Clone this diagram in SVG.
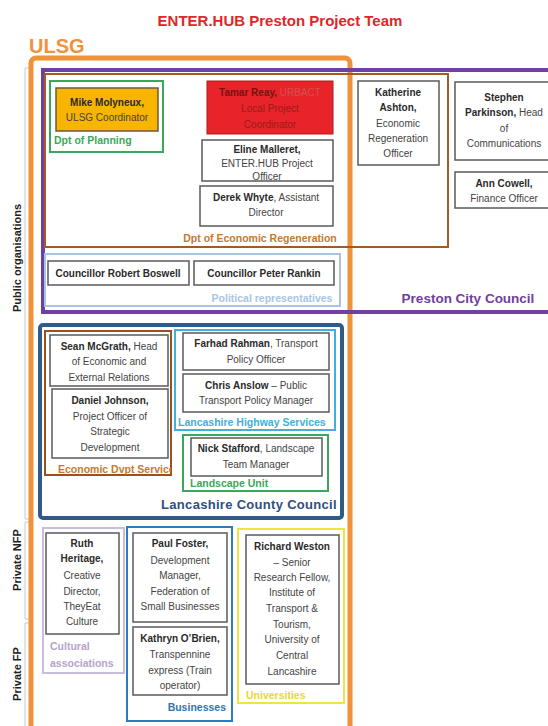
<svg xmlns="http://www.w3.org/2000/svg" width="548" height="726" viewBox="0 0 548 726">
<defs>
<style>
text{font-family:"Liberation Sans",Arial,sans-serif;}
.n{fill:#fff;stroke:#5a5a5a;stroke-width:1.5;}
.t{font-size:10px;fill:#444;text-anchor:middle;}
.b{font-weight:bold;fill:#2a2a2a;}
.lbl{font-size:10.5px;font-weight:bold;}
.grp{fill:none;}
.side{font-size:11px;font-weight:bold;fill:#222;text-anchor:middle;}
.br{stroke:#c8c8c8;stroke-width:1;fill:none;}
</style>
<clipPath id="edsClip"><rect x="45" y="331" width="126" height="144"/></clipPath>
</defs>
<rect width="548" height="726" fill="#fff"/>

<!-- title -->
<text x="280" y="26" font-size="15" font-weight="bold" fill="#e0262a" text-anchor="middle">ENTER.HUB Preston Project Team</text>

<!-- side axis -->
<g id="axis">
<path class="br" d="M29,68 H25 V519 H29"/>
<path class="br" d="M29,522 H25 V619 H29"/>
<path class="br" d="M29,623 H25 V726"/>
<text class="side" transform="translate(21,258) rotate(-90)">Public organisations</text>
<text class="side" transform="translate(21,560) rotate(-90)">Private NFP</text>
<text class="side" transform="translate(21,674) rotate(-90)">Private FP</text>
</g>

<!-- ULSG -->
<g id="ulsg">
<text x="29" y="53" font-size="20" font-weight="bold" fill="#f0923a">ULSG</text>
<rect x="31" y="58" width="319" height="690" rx="5" fill="none" stroke="#f0923a" stroke-width="5"/>
</g>

<!-- Preston City Council -->
<g id="preston">
<rect x="43" y="70" width="520" height="242" fill="none" stroke="#7040a0" stroke-width="4"/>
<text x="468" y="303" font-size="13.5" font-weight="bold" fill="#7040a0" text-anchor="middle">Preston City Council</text>
</g>

<!-- Dpt of Economic Regeneration -->
<g id="der">
<rect x="45" y="74" width="403" height="173" fill="none" stroke="#a55a24" stroke-width="2"/>
<text x="260" y="242" font-size="10.5" font-weight="bold" fill="#c47a2e" text-anchor="middle">Dpt of Economic Regeneration</text>
</g>

<!-- Dpt of Planning -->
<g id="planning">
<rect x="50" y="81" width="113" height="71" fill="none" stroke="#3aa85a" stroke-width="2"/>
<text x="54" y="144" class="lbl" fill="#3aa85a">Dpt of Planning</text>
</g>

<g id="mike">
<rect x="56" y="88" width="102" height="43" fill="#f7b500" stroke="#6a5a3a" stroke-width="1.5"/>
<text class="t"><tspan x="107" y="106" class="b">Mike Molyneux,</tspan><tspan x="107" y="121">ULSG Coordinator</tspan></text>
</g>

<g id="tamar">
<rect x="207" y="81" width="126" height="53" fill="#e8242a" stroke="#b01a1a" stroke-width="1"/>
<text class="t" fill="#9a1a1a"><tspan x="270" y="96"><tspan font-weight="bold" fill="#7a1010">Tamar Reay,</tspan><tspan fill="#d45050"> URBACT</tspan></tspan><tspan x="270" y="112" fill="#9a1a1a">Local Project</tspan><tspan x="270" y="128" fill="#9a1a1a">Coordinator</tspan></text>
</g>

<g id="eline">
<rect class="n" x="202" y="140" width="131" height="41"/>
<text class="t"><tspan x="267" y="153" class="b">Eline Malleret,</tspan><tspan x="267" y="167">ENTER.HUB Project</tspan><tspan x="267" y="180">Officer</tspan></text>
</g>

<g id="derek">
<rect class="n" x="200" y="186" width="133" height="40"/>
<text class="t"><tspan x="266" y="201"><tspan class="b">Derek Whyte</tspan>, Assistant</tspan><tspan x="266" y="216">Director</tspan></text>
</g>

<g id="katherine">
<rect class="n" x="358" y="81" width="81" height="84"/>
<text class="t"><tspan x="398" y="96" class="b">Katherine</tspan><tspan x="398" y="111" class="b">Ashton,</tspan><tspan x="398" y="127">Economic</tspan><tspan x="398" y="142">Regeneration</tspan><tspan x="398" y="157">Officer</tspan></text>
</g>

<g id="stephen">
<rect class="n" x="455" y="82" width="100" height="78"/>
<text class="t"><tspan x="504" y="101" class="b">Stephen</tspan><tspan x="504" y="116"><tspan class="b">Parkinson,</tspan> Head</tspan><tspan x="504" y="132">of</tspan><tspan x="504" y="147">Communications</tspan></text>
</g>

<g id="ann">
<rect class="n" x="455" y="172" width="100" height="36"/>
<text class="t"><tspan x="504" y="187" class="b">Ann Cowell,</tspan><tspan x="504" y="202">Finance Officer</tspan></text>
</g>

<!-- Political representatives -->
<g id="political">
<rect x="45" y="254" width="295" height="52" fill="none" stroke="#a8c4e4" stroke-width="2"/>
<text x="272" y="302" class="lbl" fill="#a8c4e4" text-anchor="middle">Political representatives</text>
</g>
<g id="boswell">
<rect class="n" x="48" y="261" width="141" height="24"/>
<text class="t b" x="118" y="277">Councillor Robert Boswell</text>
</g>
<g id="rankin">
<rect class="n" x="194" y="261" width="140" height="24"/>
<text class="t b" x="264" y="277">Councillor Peter Rankin</text>
</g>

<!-- Lancashire County Council -->
<g id="lcc">
<rect x="40" y="325" width="302" height="193" rx="3" fill="none" stroke="#2f5a8a" stroke-width="4"/>
<text x="249" y="509" font-size="13" font-weight="bold" fill="#2f4f80" text-anchor="middle" letter-spacing="0.3">Lancashire County Council</text>
</g>

<g id="eds">
<rect x="45" y="331" width="126" height="144" fill="none" stroke="#9a5020" stroke-width="2"/>
<text x="58" y="473" class="lbl" fill="#c47a2e" clip-path="url(#edsClip)">Economic Dvpt Service</text>
</g>
<g id="sean">
<rect class="n" x="50" y="335" width="118" height="51"/>
<text class="t"><tspan x="109" y="350"><tspan class="b">Sean McGrath,</tspan> Head</tspan><tspan x="109" y="365">of Economic and</tspan><tspan x="109" y="381">External Relations</tspan></text>
</g>
<g id="daniel">
<rect class="n" x="52" y="389" width="116" height="69"/>
<text class="t"><tspan x="110" y="404" class="b">Daniel Johnson,</tspan><tspan x="110" y="420">Project Officer of</tspan><tspan x="110" y="435">Strategic</tspan><tspan x="110" y="451">Development</tspan></text>
</g>

<g id="highway">
<rect x="175" y="330" width="160" height="100" fill="none" stroke="#40b0e0" stroke-width="2"/>
<text x="178" y="426" class="lbl" fill="#40b0e0">Lancashire Highway Services</text>
</g>
<g id="farhad">
<rect class="n" x="183" y="333" width="146" height="37"/>
<text class="t"><tspan x="256" y="347"><tspan class="b">Farhad Rahman</tspan>, Transport</tspan><tspan x="256" y="363">Policy Officer</tspan></text>
</g>
<g id="chris">
<rect class="n" x="183" y="374" width="146" height="38"/>
<text class="t"><tspan x="256" y="389"><tspan class="b">Chris Anslow</tspan> – Public</tspan><tspan x="256" y="404">Transport Policy Manager</tspan></text>
</g>

<g id="landscape">
<rect x="183" y="435" width="145" height="56" fill="none" stroke="#3aa85a" stroke-width="2"/>
<text x="190" y="487" class="lbl" fill="#3aa85a">Landscape Unit</text>
</g>
<g id="nick">
<rect class="n" x="191" y="438" width="131" height="38"/>
<text class="t"><tspan x="256" y="452"><tspan class="b">Nick Stafford</tspan>, Landscape</tspan><tspan x="256" y="468">Team Manager</tspan></text>
</g>

<!-- Cultural associations -->
<g id="cultural">
<rect x="43" y="528" width="81" height="145" fill="none" stroke="#c8bedc" stroke-width="2"/>
<text class="lbl" fill="#b4a4cc" font-weight="normal"><tspan x="50" y="650">Cultural</tspan><tspan x="50" y="667">associations</tspan></text>
</g>
<g id="ruth">
<rect class="n" x="46" y="533" width="73" height="101"/>
<text class="t"><tspan x="82" y="547" class="b">Ruth</tspan><tspan x="82" y="562" class="b">Heritage,</tspan><tspan x="82" y="579">Creative</tspan><tspan x="82" y="595">Director,</tspan><tspan x="82" y="610">TheyEat</tspan><tspan x="82" y="625">Culture</tspan></text>
</g>

<!-- Businesses -->
<g id="businesses">
<rect x="127" y="527" width="105" height="194" fill="none" stroke="#2e7bc0" stroke-width="2"/>
<text x="226" y="711" class="lbl" fill="#2e75b6" text-anchor="end">Businesses</text>
</g>
<g id="paul">
<rect class="n" x="133" y="533" width="94" height="89"/>
<text class="t"><tspan x="180" y="547" class="b">Paul Foster,</tspan><tspan x="180" y="564">Development</tspan><tspan x="180" y="579">Manager,</tspan><tspan x="180" y="595">Federation of</tspan><tspan x="180" y="610">Small Businesses</tspan></text>
</g>
<g id="kathryn">
<rect class="n" x="133" y="627" width="94" height="68"/>
<text class="t"><tspan x="180" y="642" class="b">Kathryn O’Brien,</tspan><tspan x="180" y="658">Transpennine</tspan><tspan x="180" y="674">express (Train</tspan><tspan x="180" y="689">operator)</tspan></text>
</g>

<!-- Universities -->
<g id="universities">
<rect x="238" y="529" width="106" height="174" fill="none" stroke="#f0e440" stroke-width="2"/>
<text x="246" y="699" class="lbl" fill="#e8d830">Universities</text>
</g>
<g id="richard">
<rect class="n" x="246" y="535" width="93" height="149"/>
<text class="t"><tspan x="292" y="550" class="b">Richard Weston</tspan><tspan x="292" y="566">– Senior</tspan><tspan x="292" y="581">Research Fellow,</tspan><tspan x="292" y="596">Institute of</tspan><tspan x="292" y="612">Transport &amp;</tspan><tspan x="292" y="628">Tourism,</tspan><tspan x="292" y="643">University of</tspan><tspan x="292" y="659">Central</tspan><tspan x="292" y="675">Lancashire</tspan></text>
</g>

<g id="connectors"></g>
</svg>
